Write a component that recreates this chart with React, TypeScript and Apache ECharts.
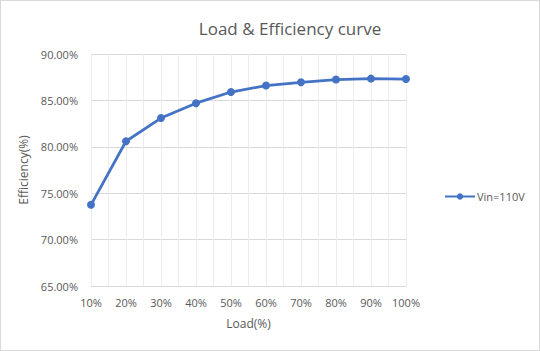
import React, { useEffect, useRef } from "react";
import * as echarts from "echarts";

const loads = [10, 20, 30, 40, 50, 60, 70, 80, 90, 100];
const efficiency = [73.75, 80.6, 83.1, 84.7, 85.9, 86.6, 86.95, 87.25, 87.35, 87.3];
const seriesName = "Vin=110V";
const titleText = "Load & Efficiency curve";
const xName = "Load(%)";
const yName = "Efficiency(%)";

const FONT = "'Open Sans', sans-serif";
const TXT = "#595959";

export default function App() {
  const ref = useRef<HTMLDivElement>(null);
  useEffect(() => {
    document.body.style.margin = "0";
    const chart = echarts.init(ref.current!, null, { renderer: "svg" });
    chart.setOption({
      animation: false,
      backgroundColor: "#ffffff",
      textStyle: { fontFamily: FONT },
      title: {
        text: titleText,
        left: 284,
        top: 14,
        textAlign: "center",
        textStyle: { fontFamily: FONT, fontSize: 17, fontWeight: "normal", color: TXT },
      },
      legend: {
        left: 438,
        top: 185,
        itemWidth: 30,
        itemHeight: 8,
        itemGap: 2,
        textStyle: { fontFamily: FONT, fontSize: 11, color: TXT, padding: [0, 0, 0, -3] },
        data: [seriesName],
      },
      grid: { left: 90, right: 133, top: 53, bottom: 64 },
      xAxis: {
        type: "value",
        min: 10,
        max: 100,
        interval: 5,
        name: xName,
        nameLocation: "middle",
        nameGap: 31,
        nameTextStyle: { fontFamily: FONT, fontSize: 12, color: TXT },
        axisLine: { show: true, lineStyle: { color: "#d9d9d9", width: 1 } },
        axisTick: { show: false },
        axisLabel: {
          fontFamily: FONT,
          fontSize: 11,
          color: TXT,
          margin: 11,
          formatter: (v: number) => (v % 10 === 0 ? v + "%" : ""),
        },
        splitLine: { show: true, lineStyle: { color: "#ececec", width: 1 } },
      },
      yAxis: {
        type: "value",
        min: 65,
        max: 90,
        interval: 5,
        name: yName,
        nameLocation: "middle",
        nameGap: 57,
        nameTextStyle: { fontFamily: FONT, fontSize: 12, color: TXT },
        axisLine: { show: false },
        axisTick: { show: false },
        axisLabel: {
          fontFamily: FONT,
          fontSize: 11,
          color: TXT,
          margin: 13,
          formatter: (v: number) => v.toFixed(2) + "%",
        },
        splitLine: { show: true, lineStyle: { color: "#d9d9d9", width: 1 } },
      },
      series: [
        {
          name: seriesName,
          type: "line",
          data: loads.map((l, i) => [l, efficiency[i]]),
          symbol: "circle",
          symbolSize: 8,
          lineStyle: { color: "#4472c4", width: 2.75 },
          itemStyle: { color: "#4472c4" },
        },
      ],
    });
    return () => chart.dispose();
  }, []);
  return (
    <div
      ref={ref}
      style={{
        width: 540,
        height: 351,
        boxSizing: "border-box",
        border: "1px solid #d9d9d9",
      }}
    />
  );
}
